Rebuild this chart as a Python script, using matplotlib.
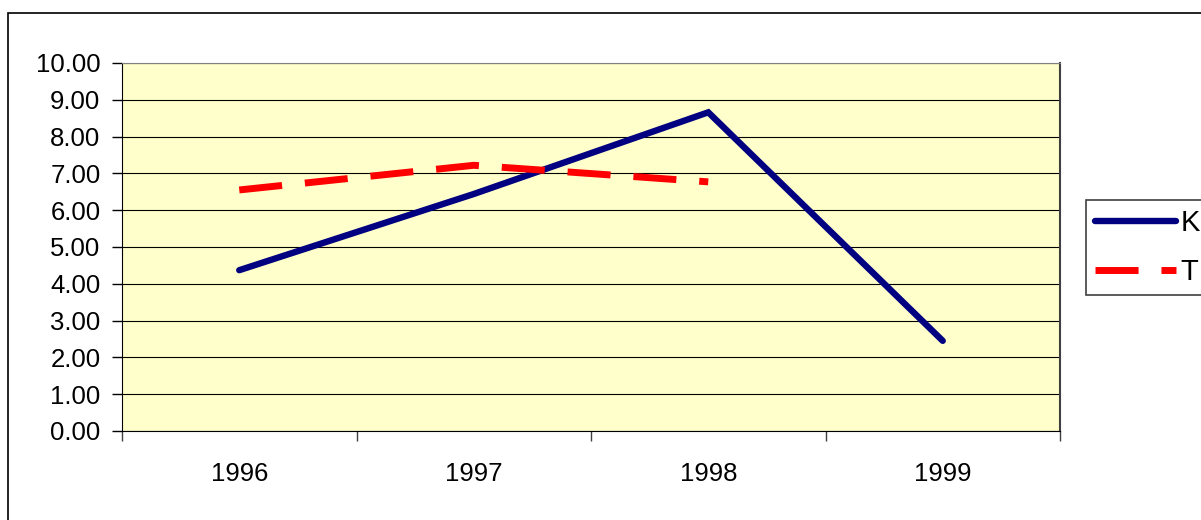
import matplotlib
matplotlib.use('Agg')
import numpy as np
import matplotlib.pyplot as plt
from matplotlib.patches import Rectangle

# chart values
years = ['1996', '1997', '1998', '1999']
k_vals = [4.37, 6.44, 8.66, 2.45]
t_vals = [6.55, 7.22, 6.77]

plt.rcParams['font.family'] = ['Liberation Sans', 'DejaVu Sans']

W, H = 1201, 520
fig = plt.figure(figsize=(W / 100, H / 100), dpi=100)
fig.patch.set_facecolor('white')

# outer chart border (runs off the right and bottom of the picture)
fig.patches.append(Rectangle((8 / W, -0.05), 1.2, 1 - 13 / H + 0.05,
                             transform=fig.transFigure, fill=False,
                             edgecolor='black', linewidth=1.2, clip_on=False))

ax = fig.add_axes([122 / W, 1 - 431 / H, (1060 - 122) / W, (431 - 63) / H])
ax.set_facecolor('#FFFFCC')

x = np.arange(len(years))
ax.plot(x, k_vals, color='#000080', lw=4.6, solid_capstyle='round',
        solid_joinstyle='miter', label='K', zorder=3)
ax.plot(x[:len(t_vals)], t_vals, color='#FF0000', lw=5,
        linestyle=(0, (6.2, 3.3)), dash_capstyle='butt', label='T', zorder=3)

ax.set_xlim(-0.5, len(years) - 0.5)
ax.set_ylim(0, 10)
ax.set_yticks(np.arange(0, 11, 1))
ax.set_yticklabels(['%.2f' % v for v in np.arange(0, 11, 1)])
ax.yaxis.grid(True, color='black', lw=0.8)
ax.set_axisbelow(True)

ax.set_xticks(np.arange(-0.5, len(years), 1.0))
ax.set_xticklabels([])
ax.set_xticks(x, minor=True)
ax.set_xticklabels(years, minor=True)
ax.tick_params(axis='x', which='major', direction='out', length=7, width=1, color='#404040')
ax.tick_params(axis='x', which='minor', length=0, pad=22, labelsize=18.5)
ax.tick_params(axis='y', direction='out', length=7, width=1, pad=8.5, labelsize=18.5)

ax.spines['left'].set_color('black')
ax.spines['bottom'].set_color('black')
ax.spines['top'].set_color('#808080')
ax.spines['right'].set_color('#404040')
ax.spines['right'].set_linewidth(1.5)

leg = fig.legend(loc='upper left', bbox_to_anchor=(1086 / W, 1 - 200 / H),
                 bbox_transform=fig.transFigure, borderaxespad=0,
                 fontsize=21, handlelength=2.8, handletextpad=0.15,
                 borderpad=0.3, labelspacing=0.73, fancybox=False,
                 framealpha=1, edgecolor='#404040')
leg.get_frame().set_linewidth(1.2)

fig.savefig('out.png', dpi=100)
